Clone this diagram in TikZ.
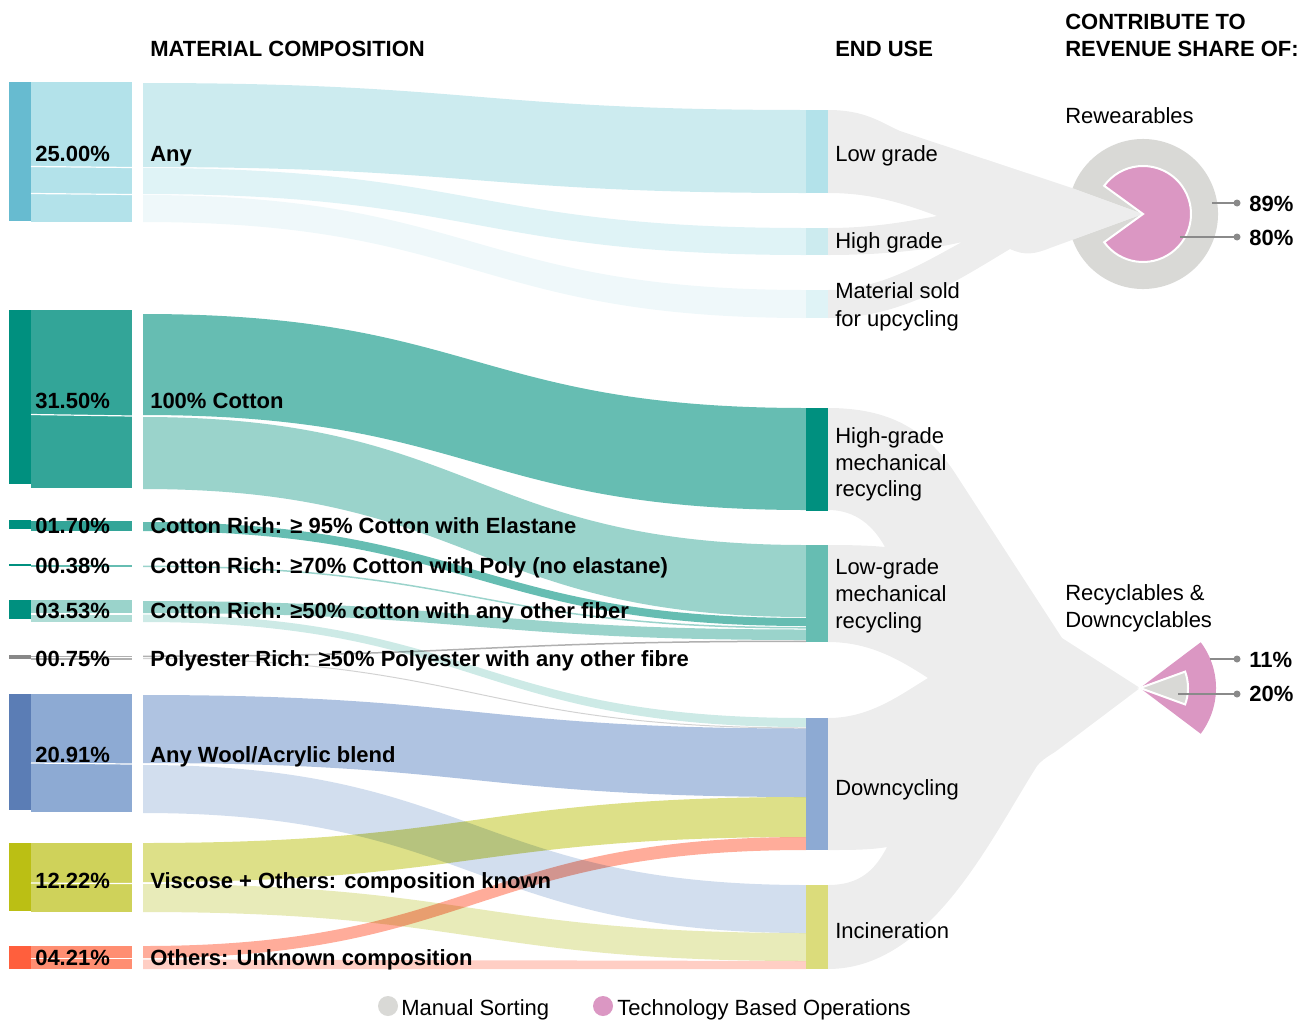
\documentclass[tikz,border=0pt]{standalone}
\usepackage{fontspec}
\setmainfont{Liberation Sans}
\definecolor{anyDark}{HTML}{67BBD0}
\definecolor{anyBox}{HTML}{B3E2EA}
\definecolor{anyLow}{HTML}{CCEBEF}
\definecolor{anyHigh}{HTML}{DFF3F6}
\definecolor{anyUp}{HTML}{EFF8FA}
\definecolor{cotDark}{HTML}{00907F}
\definecolor{cotBox}{HTML}{33A598}
\definecolor{cotMid}{HTML}{66BDB2}
\definecolor{cotLight}{HTML}{9AD3CB}
\definecolor{cotPale}{HTML}{CDEAE6}
\definecolor{polyDark}{HTML}{888888}
\definecolor{polyA}{HTML}{B0B0B0}
\definecolor{polyB}{HTML}{D2D2D2}
\definecolor{woolDark}{HTML}{5B7DB5}
\definecolor{woolBox}{HTML}{8DAAD3}
\definecolor{woolA}{HTML}{AFC3E1}
\definecolor{woolB}{HTML}{D2DEEE}
\definecolor{visDark}{HTML}{BBBF14}
\definecolor{visBox}{HTML}{CFD25A}
\definecolor{visA}{HTML}{DDE088}
\definecolor{visB}{HTML}{E8EBB9}
\definecolor{othDark}{HTML}{FF5F3D}
\definecolor{othBox}{HTML}{FF8E72}
\definecolor{othA}{HTML}{FFAC9A}
\definecolor{othB}{HTML}{FFCEC4}
\definecolor{incNode}{HTML}{DBDC7B}
\definecolor{funnel}{HTML}{EDEDED}
\definecolor{ringGray}{HTML}{D9D9D6}
\definecolor{techPink}{HTML}{DB97C3}
\definecolor{leadGray}{HTML}{8A8A8A}
\begin{document}
\begin{tikzpicture}[x=0.75pt,y=-0.75pt,
  txt/.style={anchor=base west,inner sep=0pt,font=\fontsize{16.5}{20}\selectfont},
  btxt/.style={txt,font=\fontsize{16.5}{20}\selectfont\bfseries},
  sep/.style={white,line width=0.9pt},
  leader/.style={leadGray,line width=1.2pt}]
\useasboundingbox (0,0) rectangle (1308,1021);

% headers
\node[btxt] (hMat) at (150,56) {MATERIAL COMPOSITION};
\node[btxt] (hEnd) at (835,56) {END USE};
\node[btxt] (hCon) at (1065,29) {CONTRIBUTE TO};
\node[btxt] (hRev) at (1065,56) {REVENUE SHARE OF:};

% gray funnels to the shares
\fill[funnel] (828,110) .. controls (865,110) and (880,122) .. (900,131) -- (1072,188) -- (1143,214) -- (1072,240) -- (1050,248)
  .. controls (1035,254) and (1025,256) .. (1010,249) .. controls (950,285) and (900,318) .. (828,318) -- (828,290)
  .. controls (880,290) and (925,262) .. (962,242) .. controls (920,252) and (870,255) .. (828,255) -- (828,228)
  .. controls (870,228) and (905,222) .. (937,216) .. controls (895,200) and (865,193) .. (828,193) -- cycle;
\fill[funnel] (828,408) .. controls (890,408) and (925,430) .. (953,470) -- (1062,638) -- (1140,688) -- (1055,752)
  .. controls (1045,758) and (1040,762) .. (1037,766) .. controls (990,840) and (930,969) .. (828,969) -- (828,885)
  .. controls (860,885) and (875,870) .. (887,847) .. controls (870,850) and (850,850) .. (828,850) -- (828,718)
  .. controls (870,718) and (900,695) .. (928,678) .. controls (900,660) and (870,642) .. (828,642) -- (828,545)
  .. controls (860,545) and (875,546) .. (885,547) .. controls (870,520) and (850,510) .. (828,510) -- cycle;

% flow bands
\begin{scope}[blend mode=multiply]
\fill[anyLow] (143,83) .. controls (475,83) and (475,110) .. (806,110) -- (806,193) .. controls (475,193) and (475,167) .. (143,167) -- cycle;
\fill[anyHigh] (143,168) .. controls (475,168) and (475,228) .. (806,228) -- (806,255) .. controls (475,255) and (475,194) .. (143,194) -- cycle;
\fill[anyUp] (143,195) .. controls (475,195) and (475,290) .. (806,290) -- (806,318) .. controls (475,318) and (475,222) .. (143,222) -- cycle;
\fill[cotMid] (143,314) .. controls (475,314) and (475,408) .. (806,408) -- (806,510) .. controls (475,510) and (475,415) .. (143,415) -- cycle;
\fill[cotLight] (143,417) .. controls (475,417) and (475,545) .. (806,545) -- (806,617) .. controls (475,617) and (475,489) .. (143,489) -- cycle;
\fill[cotMid] (143,522) .. controls (475,522) and (475,618) .. (806,618) -- (806,626) .. controls (475,626) and (475,531) .. (143,531) -- cycle;
\fill[cotLight] (143,565.5) .. controls (475,565.5) and (475,627) .. (806,627) -- (806,628.5) .. controls (475,628.5) and (475,567) .. (143,567) -- cycle;
\fill[cotLight] (143,601) .. controls (475,601) and (475,629.5) .. (806,629.5) -- (806,640) .. controls (475,640) and (475,613) .. (143,613) -- cycle;
\fill[cotPale] (143,614.5) .. controls (475,614.5) and (475,718) .. (806,718) -- (806,727) .. controls (475,727) and (475,622) .. (143,622) -- cycle;
\fill[polyA] (143,655.5) .. controls (475,655.5) and (475,640.5) .. (806,640.5) -- (806,642) .. controls (475,642) and (475,657) .. (143,657) -- cycle;
\fill[polyB] (143,658) .. controls (475,658) and (475,727.5) .. (806,727.5) -- (806,728.5) .. controls (475,728.5) and (475,659) .. (143,659) -- cycle;
\fill[woolA] (143,695) .. controls (475,695) and (475,728.5) .. (806,728.5) -- (806,797) .. controls (475,797) and (475,763) .. (143,763) -- cycle;
\fill[woolB] (143,765) .. controls (475,765) and (475,885) .. (806,885) -- (806,933) .. controls (475,933) and (475,813) .. (143,813) -- cycle;
\fill[visA] (143,843) .. controls (475,843) and (475,797) .. (806,797) -- (806,837) .. controls (475,837) and (475,882) .. (143,882) -- cycle;
\fill[visB] (143,884) .. controls (475,884) and (475,933) .. (806,933) -- (806,961) .. controls (475,961) and (475,912) .. (143,912) -- cycle;
\fill[othA] (143,946) .. controls (475,946) and (475,837) .. (806,837) -- (806,850) .. controls (475,850) and (475,958) .. (143,958) -- cycle;
\fill[othB] (143,959.5) .. controls (475,959.5) and (475,961) .. (806,961) -- (806,969) .. controls (475,969) and (475,969) .. (143,969) -- cycle;
\end{scope}

% material composition bars
\fill[anyDark] (9,82) rectangle (31,221);
\fill[anyBox] (31,82) rectangle (132,222);
\draw[sep] (31,166.5) -- (132,167.5);
\draw[sep] (31,193.5) -- (132,194.5);
\fill[cotDark] (9,310) rectangle (31,484);
\fill[cotBox] (31,310) rectangle (132,488);
\draw[sep] (31,414.5) -- (132,416);
\fill[cotDark] (9,520) rectangle (31,529);
\fill[cotBox] (31,521) rectangle (132,531);
\fill[cotDark] (9,564) rectangle (31,566);
\fill[cotMid] (31,565) rectangle (132,567);
\fill[cotDark] (9,600) rectangle (31,619);
\fill[cotLight] (31,600) rectangle (132,613);
\fill[cotLight!80!white] (31,614.5) rectangle (132,622);
\fill[polyDark] (9,655) rectangle (31,659);
\fill[polyA] (31,655.5) rectangle (132,657);
\fill[polyA] (31,658) rectangle (132,659.5);
\fill[woolDark] (9,694) rectangle (31,810);
\fill[woolBox] (31,694) rectangle (132,812);
\draw[sep] (31,763) -- (132,764);
\fill[visDark] (9,843) rectangle (31,911);
\fill[visBox] (31,843) rectangle (132,912);
\draw[sep] (31,883) -- (132,883.5);
\fill[othDark] (9,946) rectangle (31,969);
\fill[othBox] (31,946) rectangle (132,969);
\draw[sep] (31,958.5) -- (132,958.5);

% end use bars
\fill[anyBox] (806,110) rectangle (828,193);
\fill[anyLow] (806,228) rectangle (828,255);
\fill[anyHigh] (806,290) rectangle (828,318);
\fill[cotDark] (806,408) rectangle (828,511);
\fill[cotMid] (806,545) rectangle (828,642);
\fill[woolBox] (806,718) rectangle (828,850);
\fill[incNode] (806,885) rectangle (828,969);

% percentages
\node[btxt] (pAny) at (35,161) {25.00\%};
\node[btxt] (pCot) at (35,408) {31.50\%};
\node[btxt] (pEla) at (35,533) {01.70\%};
\node[btxt] (pPol) at (35,573) {00.38\%};
\node[btxt] (pOth) at (35,618) {03.53\%};
\node[btxt] (pPes) at (35,666) {00.75\%};
\node[btxt] (pWoo) at (35,762) {20.91\%};
\node[btxt] (pVis) at (35,888) {12.22\%};
\node[btxt] (pUnk) at (35,965) {04.21\%};

% compositions
\node[btxt] (cAny) at (150,161) {Any};
\node[btxt] (cCot) at (150,408) {100\% Cotton};
\node[btxt] (cEla) at (150,533) {Cotton Rich: ≥ 95\% Cotton with Elastane};
\node[btxt] (cPol) at (150,573) {Cotton Rich: ≥70\% Cotton with Poly (no elastane)};
\node[btxt] (cOth) at (150,618) {Cotton Rich: ≥50\% cotton with any other fiber};
\node[btxt] (cPes) at (150,666) {Polyester Rich: ≥50\% Polyester with any other fibre};
\node[btxt] (cWoo) at (150,762) {Any Wool/Acrylic blend};
\node[btxt] (cVis) at (150,888) {Viscose + Others: composition known};
\node[btxt] (cUnk) at (150,965) {Others: Unknown composition};

% end uses
\node[txt] (eLow) at (835,161) {Low grade};
\node[txt] (eHigh) at (835,248) {High grade};
\node[txt] (eUpA) at (835,298) {Material sold};
\node[txt] (eUpB) at (835,326) {for upcycling};
\node[txt] (eHmA) at (835,443) {High-grade};
\node[txt] (eHmB) at (835,470) {mechanical};
\node[txt] (eHmC) at (835,496) {recycling};
\node[txt] (eLmA) at (835,574) {Low-grade};
\node[txt] (eLmB) at (835,601) {mechanical};
\node[txt] (eLmC) at (835,628) {recycling};
\node[txt] (eDown) at (835,795) {Downcycling};
\node[txt] (eInc) at (835,938) {Incineration};

% revenue shares
\node[txt] (sRew) at (1065,123) {Rewearables};
\fill[ringGray] (1143,214) -- ++(160:75) arc[start angle=160,end angle=-160,radius=75] -- cycle;
\fill[funnel] (1072,188) -- (1143,214) -- (1072,240) -- cycle;
\filldraw[techPink,draw=white,line width=1.5pt] (1143,214) -- ++(144:48) arc[start angle=144,end angle=-144,radius=48] -- cycle;
\coordinate (d89) at (1237,203);
\coordinate (d80) at (1237,237);
\draw[leader] (1212,203) -- (d89);
\draw[leader] (1180,237) -- (d80);
\fill[leadGray] (d89) circle (3.5);
\fill[leadGray] (d80) circle (3.5);
\node[btxt] (s89) at (1249,211) {89\%};
\node[btxt] (s80) at (1249,245) {80\%};

\node[txt] (sRecA) at (1065,600) {Recyclables \&};
\node[txt] (sRecB) at (1065,627) {Downcyclables};
\fill[techPink] (1140,688) -- ++(37:76) arc[start angle=37,end angle=-37,radius=76] -- cycle;
\filldraw[ringGray,draw=white,line width=1.5pt] (1140,688) -- ++(20:48) arc[start angle=20,end angle=-20,radius=48] -- cycle;
\coordinate (d11) at (1237,659);
\coordinate (d20) at (1237,694);
\draw[leader] (1210,659) -- (d11);
\draw[leader] (1178,694) -- (d20);
\fill[leadGray] (d11) circle (3.5);
\fill[leadGray] (d20) circle (3.5);
\node[btxt] (s11) at (1249,667) {11\%};
\node[btxt] (s20) at (1249,701) {20\%};

% legend
\fill[ringGray] (388,1006) circle (10);
\node[txt] (lMan) at (401,1015) {Manual Sorting};
\fill[techPink] (603,1006) circle (10);
\node[txt] (lTech) at (617,1015) {Technology Based Operations};
\end{tikzpicture}
\end{document}
